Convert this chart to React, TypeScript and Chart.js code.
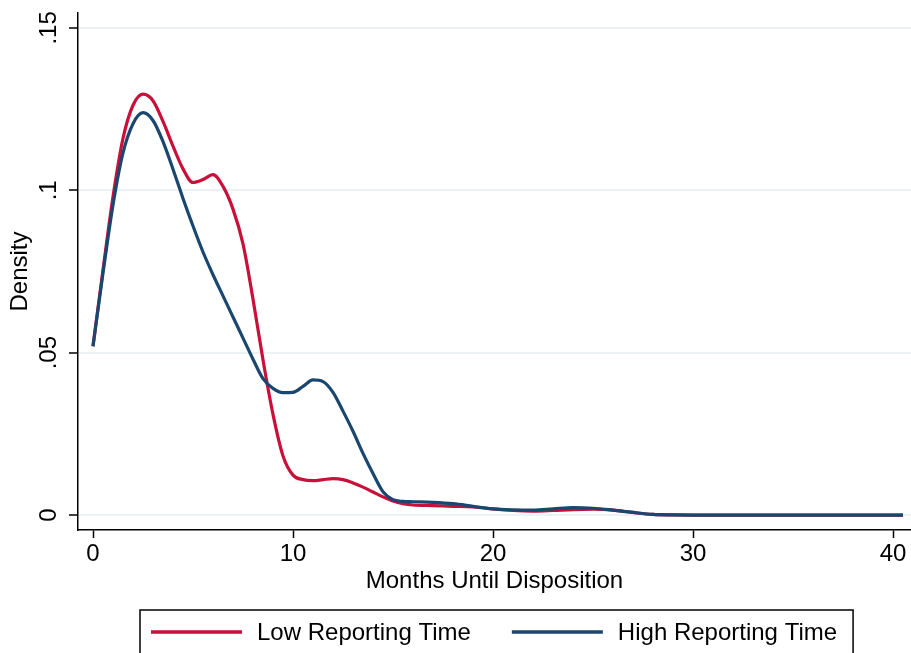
import { useEffect, useRef } from 'react';
import { Chart, registerables } from 'chart.js';

Chart.register(...registerables);

// Kernel density estimates of months until disposition
const months = [
  0, 0.5, 1, 1.5, 2, 2.5, 3, 3.5, 4, 4.5, 5, 5.5, 6, 6.5, 7, 7.5, 8, 8.5, 9, 9.5,
  10, 10.5, 11, 11.5, 12, 12.5, 13, 13.5, 14, 14.5, 15, 15.5, 16,
  17, 18, 19, 20, 21, 22, 23, 24, 25, 26, 27, 28, 29, 30,
  32, 34, 36, 38, 40, 40.5,
];

const lowReporting = [
  0.052, 0.0755, 0.098, 0.116, 0.1262, 0.1296, 0.1276, 0.1212, 0.1136, 0.1066,
  0.1024, 0.1033, 0.1048, 0.1012, 0.0942, 0.0835, 0.0665, 0.0478, 0.031, 0.0182,
  0.0123, 0.0109, 0.0106, 0.0109, 0.0112, 0.0109, 0.0099, 0.0086, 0.0071, 0.0056,
  0.0043, 0.0035, 0.0031,
  0.0029, 0.0027, 0.0025, 0.0019, 0.0014, 0.0012, 0.0014, 0.0017, 0.0018, 0.0015,
  0.0008, 0.0002, 0.00005, 0,
  0, 0, 0, 0, 0, 0,
];

const highReporting = [
  0.052, 0.0745, 0.0955, 0.1115, 0.1205, 0.1239, 0.1215, 0.115, 0.1065, 0.0975,
  0.089, 0.081, 0.074, 0.0675, 0.061, 0.0545, 0.048, 0.042, 0.039, 0.0377,
  0.0378, 0.0396, 0.0416, 0.0411, 0.0378, 0.032, 0.0258, 0.019, 0.0128, 0.0072,
  0.0047, 0.0042, 0.0041,
  0.0039, 0.0035, 0.0027, 0.0019, 0.0016, 0.0015, 0.0019, 0.0023, 0.0021, 0.0015,
  0.0008, 0.0002, 0.00005, 0,
  0, 0, 0, 0, 0, 0,
];

const seriesLabels = ['Low Reporting Time', 'High Reporting Time'];
const seriesColors = ['#c8103a', '#1a476f'];

const xTickValues = [0, 10, 20, 30, 40];
const yTickValues = [0, 0.05, 0.1, 0.15];
const yTickLabels = ['0', '.05', '.1', '.15'];

const FONT = '"Liberation Sans", Arial, Helvetica, sans-serif';
const FONT_SIZE = 24;

// Stata-style rotated y tick labels
const yTickLabelPlugin = {
  id: 'yTickLabels',
  afterDraw(chart: any) {
    const { ctx } = chart;
    const y = chart.scales.y;
    ctx.save();
    ctx.fillStyle = '#000';
    ctx.font = `${FONT_SIZE}px ${FONT}`;
    ctx.textAlign = 'center';
    ctx.textBaseline = 'alphabetic';
    yTickValues.forEach((v, i) => {
      const py = y.getPixelForValue(v);
      ctx.save();
      ctx.translate(y.right - 22, py);
      ctx.rotate(-Math.PI / 2);
      ctx.fillText(yTickLabels[i], 0, 0);
      ctx.restore();
    });
    ctx.restore();
  },
};

// Boxed legend below the x axis title
const boxedLegendPlugin = {
  id: 'boxedLegend',
  afterDraw(chart: any) {
    const { ctx, chartArea } = chart;
    ctx.save();
    ctx.font = `${FONT_SIZE}px ${FONT}`;
    const padL = 11;
    const padR = 16;
    const lineLen = 91;
    const gap = 15;
    const itemGap = 41;
    const widths = seriesLabels.map((t) => ctx.measureText(t).width);
    const total =
      padL + padR + widths.reduce((a, w) => a + lineLen + gap + w, 0) + itemGap * (seriesLabels.length - 1);
    const left = Math.round((chartArea.left + chartArea.right) / 2 - total / 2 + 2);
    const top = 610;
    const midY = 632;

    ctx.strokeStyle = '#000';
    ctx.lineWidth = 1.5;
    ctx.strokeRect(left, top, total, 60);

    let x = left + padL;
    seriesLabels.forEach((label, i) => {
      ctx.strokeStyle = seriesColors[i];
      ctx.lineWidth = 3.5;
      ctx.beginPath();
      ctx.moveTo(x, midY);
      ctx.lineTo(x + lineLen, midY);
      ctx.stroke();
      x += lineLen + gap;
      ctx.fillStyle = '#000';
      ctx.textAlign = 'left';
      ctx.textBaseline = 'alphabetic';
      ctx.fillText(label, x, 640);
      x += widths[i] + itemGap;
    });
    ctx.restore();
  },
};

export default function App() {
  const canvasRef = useRef<HTMLCanvasElement | null>(null);

  useEffect(() => {
    const canvas = canvasRef.current;
    if (!canvas) return;
    const series = [lowReporting, highReporting];
    const chart = new Chart(canvas, {
      type: 'line',
      data: {
        datasets: series.map((vals, i) => ({
          label: seriesLabels[i],
          data: months.map((m, j) => ({ x: m, y: vals[j] })),
          borderColor: seriesColors[i],
          backgroundColor: seriesColors[i],
          borderWidth: 3.2,
          pointRadius: 0,
          fill: false,
          cubicInterpolationMode: 'monotone' as const,
          order: series.length - i,
        })),
      },
      options: {
        responsive: false,
        animation: false,
        devicePixelRatio: 1,
        layout: { padding: { top: 13, right: 0, bottom: 53, left: 0 } },
        plugins: {
          legend: { display: false },
          tooltip: { enabled: false },
        },
        scales: {
          x: {
            type: 'linear',
            min: -0.75,
            max: 40.9,
            afterBuildTicks: (s: any) => {
              s.ticks = xTickValues.map((v) => ({ value: v }));
            },
            afterFit: (s: any) => {
              s.height = 70;
            },
            border: { display: true, color: '#000', width: 1.5 },
            grid: {
              display: true,
              drawOnChartArea: false,
              drawTicks: true,
              tickLength: 8,
              tickColor: '#000',
              tickWidth: 1.5,
            },
            ticks: {
              color: '#000',
              font: { family: FONT, size: FONT_SIZE },
              padding: 2,
              maxRotation: 0,
              callback: (v: any) => String(v),
            },
            title: {
              display: true,
              text: 'Months Until Disposition',
              color: '#000',
              font: { family: FONT, size: FONT_SIZE },
              padding: { top: 0, bottom: 4 },
            },
          },
          y: {
            type: 'linear',
            min: -0.0046,
            max: 0.1546,
            afterBuildTicks: (s: any) => {
              s.ticks = yTickValues.map((v) => ({ value: v }));
            },
            afterFit: (s: any) => {
              s.width = 78;
            },
            border: { display: true, color: '#000', width: 1.5 },
            grid: {
              display: true,
              drawOnChartArea: true,
              color: '#eaf2f3',
              lineWidth: 2,
              drawTicks: true,
              tickLength: 9,
              tickColor: '#000',
              tickWidth: 1.5,
            },
            ticks: { display: false },
            title: {
              display: true,
              text: 'Density',
              color: '#000',
              font: { family: FONT, size: FONT_SIZE },
              padding: { top: 6, bottom: 0 },
            },
          },
        },
      },
      plugins: [yTickLabelPlugin, boxedLegendPlugin],
    } as any);
    return () => chart.destroy();
  }, []);

  return (
    <div style={{ position: 'fixed', left: 0, top: 0, width: 911, height: 653, background: '#fff' }}>
      <canvas ref={canvasRef} width={911} height={653} style={{ display: 'block' }} />
    </div>
  );
}
